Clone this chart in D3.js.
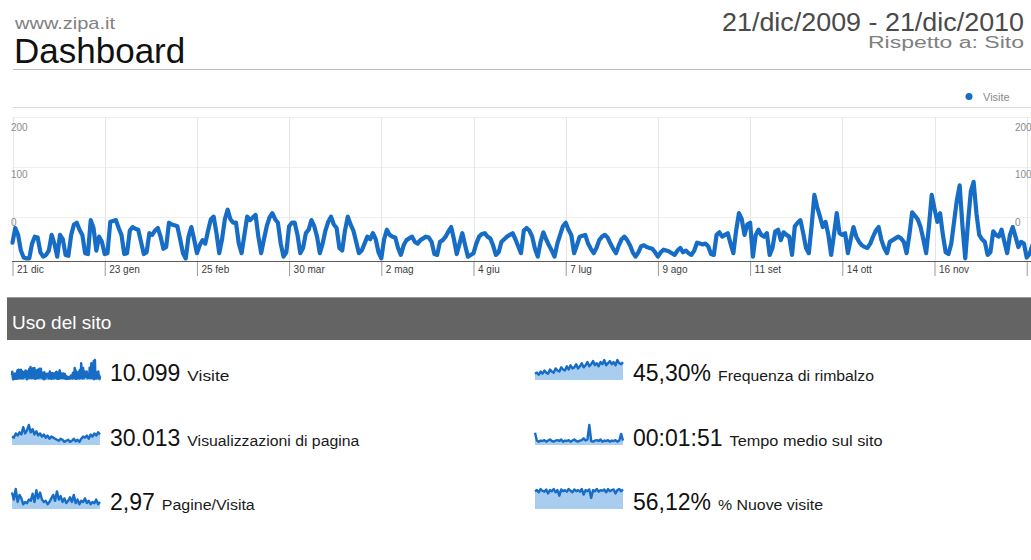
<!DOCTYPE html>
<html>
<head>
<meta charset="utf-8">
<script src="https://cdn.jsdelivr.net/npm/d3@7"></script>
<style>
  body { margin: 0; background: #fff; overflow: hidden; }
  svg { display: block; font-family: "Liberation Sans", Arial, sans-serif; }
  .axis path.domain { display: none; }
</style>
</head>
<body>
<script>
// Daily visits, 21/dic/2009 - 21/dic/2010
const visits = [
  21,38,30,12,4,3,3,
  20,28,27,10,5,7,12,
  30,20,5,30,25,7,6,
  30,42,44,36,30,9,8,
  47,38,12,28,22,8,9,
  45,46,47,38,30,8,9,
  35,39,37,36,22,8,10,
  32,30,35,38,28,14,16,
  44,42,41,40,25,9,3,
  28,39,25,9,18,24,20,
  35,48,51,32,9,25,48,
  59,48,44,44,20,9,30,
  51,47,50,53,28,9,25,
  40,50,55,48,44,20,5,
  10,40,44,44,30,9,15,
  32,36,47,40,28,9,20,
  35,45,51,42,38,15,12,
  35,51,42,35,22,9,12,
  20,28,25,32,25,10,3,
  25,36,30,28,27,15,7,
  18,24,26,28,22,20,24,
  26,28,27,22,8,7,22,
  24,28,34,39,25,8,20,
  32,18,5,7,9,20,28,
  31,32,28,26,18,7,10,
  22,25,28,30,32,25,17,
  9,35,38,35,28,14,5,
  22,33,25,18,12,5,20,
  30,40,44,36,30,9,18,
  28,29,30,20,14,9,15,
  24,28,30,27,20,14,9,
  18,25,28,24,18,10,5,
  10,17,18,16,15,14,10,
  5,10,13,12,11,9,7,
  12,15,10,12,9,7,12,
  21,20,19,20,17,8,7,
  30,33,28,30,32,20,9,
  35,55,48,30,42,44,5,
  30,36,30,28,32,7,15,
  34,36,24,33,30,28,7,
  40,44,47,32,15,9,40,
  76,62,51,39,45,30,7,
  30,55,32,30,32,9,25,
  39,28,22,18,16,15,20,
  28,35,39,24,15,9,22,
  24,26,28,26,22,9,30,
  56,52,48,39,25,9,40,
  76,60,45,55,30,10,8,
  20,45,70,87,40,3,45,
  80,91,55,30,25,22,7,
  10,34,30,28,36,22,9,
  30,39,28,16,22,20,4,
  8,18
];

const tickDates = ["2009-12-21", "2010-01-23", "2010-02-25", "2010-03-30", "2010-05-02", "2010-06-04",
  "2010-07-07", "2010-08-09", "2010-09-11", "2010-10-14", "2010-11-16", "2010-12-19"];
const yTicks = [0, 100, 200];

// sparklines for the other metrics (rough shape, weekly)
const sparkPageviews = [40,35,55,45,60,50,85,55,70,95,60,75,50,65,45,55,40,50,35,45,30,40,35,30,
  25,20,30,25,15,20,25,15,20,30,18,25,15,30,40,35,45,30,50,40,55,45,60,50];
const sparkPagesPerVisit = [70,40,85,30,60,45,20,30,25,40,35,65,30,80,45,70,40,30,35,20,30,45,60,35,
  75,40,55,30,45,25,35,50,30,60,25,40,20,35,30,45,25,35,20,30,25,40,20,30];
const sparkBounce = [30,35,25,40,30,45,35,30,50,40,35,55,45,40,60,50,45,65,50,70,55,60,75,55,
  65,80,60,70,85,65,75,90,70,80,65,85,75,95,70,80,90,75,85,70,95,80,75,85];
const sparkTime = [55,20,15,20,18,22,15,20,25,18,15,20,22,18,25,15,20,18,22,15,20,25,18,15,
  20,22,30,20,25,90,18,15,20,22,18,25,15,20,18,22,15,20,18,22,15,20,50,20];
const sparkNew = [80,85,75,90,82,78,88,70,85,80,90,75,85,60,88,80,85,78,90,82,75,88,80,85,
  78,90,65,85,80,88,50,85,80,90,78,85,82,88,75,90,80,85,88,70,85,90,80,88];

const metricValues = ["10.099", "30.013", "2,97", "45,30%", "00:01:51", "56,12%"];
const metricLabels = ["Visite", "Visualizzazioni di pagina", "Pagine/Visita",
  "Frequenza di rimbalzo", "Tempo medio sul sito", "% Nuove visite"];
const metricSparks = [visits, sparkPageviews, sparkPagesPerVisit, sparkBounce, sparkTime, sparkNew];

// layout: label widths as they appear in the screenshot
const labelWidths = [42, 172, 93, 156, 153, 105];

const BLUE = "#176dc6";
const width = 1031, height = 560;
const FONT = "Liberation Sans, Arial, sans-serif";

const svg = d3.select("body").append("svg")
  .attr("width", width)
  .attr("height", height);

// Header
svg.append("text").attr("x", 15).attr("y", 29)
  .attr("font-size", 17).attr("fill", "#808080")
  .attr("textLength", 100).attr("lengthAdjust", "spacingAndGlyphs").text("www.zipa.it");
svg.append("text").attr("x", 14).attr("y", 63)
  .attr("font-size", 35).attr("fill", "#111").text("Dashboard");
svg.append("text").attr("x", 722).attr("y", 31)
  .attr("font-size", 25).attr("fill", "#4a4a4a")
  .attr("textLength", 302).attr("lengthAdjust", "spacingAndGlyphs").text("21/dic/2009 - 21/dic/2010");
svg.append("text").attr("x", 868).attr("y", 48)
  .attr("font-size", 16).attr("fill", "#808080")
  .attr("textLength", 156).attr("lengthAdjust", "spacingAndGlyphs").text("Rispetto a: Sito");
svg.append("line").attr("x1", 13).attr("x2", width).attr("y1", 69.5).attr("y2", 69.5)
  .attr("stroke", "#bdbdbd");

// Main chart
const itLocale = d3.timeFormatLocale({
  dateTime: "%A %e %B %Y, %X", date: "%d/%m/%Y", time: "%H:%M:%S", periods: ["AM", "PM"],
  days: ["domenica", "lunedì", "martedì", "mercoledì", "giovedì", "venerdì", "sabato"],
  shortDays: ["dom", "lun", "mar", "mer", "gio", "ven", "sab"],
  months: ["gennaio", "febbraio", "marzo", "aprile", "maggio", "giugno", "luglio", "agosto",
    "settembre", "ottobre", "novembre", "dicembre"],
  shortMonths: ["gen", "feb", "mar", "apr", "mag", "giu", "lug", "ago", "set", "ott", "nov", "dic"]
});
const fmtTick = itLocale.utcFormat("%-d %b");
const parseDay = d3.utcParse("%Y-%m-%d");

const start = parseDay("2009-12-21");
const dayOf = i => d3.utcDay.offset(start, i);

const x = d3.scaleUtc()
  .domain([start, dayOf(365)])
  .range([12.5, 12.5 + 2.794 * 365]);
const y = d3.scaleLinear().domain([0, 100]).range([261, 174]);
// the axis labels/gridlines of the screenshot sit on their own scale
const gridY = d3.scaleLinear().domain([0, 200]).range([217, 117]);
const labelY = d3.scaleLinear().domain([0, 200]).range([222, 127]);

// legend + top rule
svg.append("line").attr("x1", 13).attr("x2", width).attr("y1", 107.5).attr("y2", 107.5)
  .attr("stroke", "#dcdcdc");
svg.append("circle").attr("cx", 969).attr("cy", 96.5).attr("r", 3.5).attr("fill", BLUE);
svg.append("text").attr("x", 983).attr("y", 100.5)
  .attr("font-size", 11).attr("fill", "#8a8a8a").text("Visite");

// grid
const grid = svg.append("g");
grid.selectAll(".hgrid").data(yTicks).join("line")
  .attr("x1", 12.5).attr("x2", width)
  .attr("y1", d => gridY(d) + 0.5).attr("y2", d => gridY(d) + 0.5)
  .attr("stroke", "#efefef");
grid.selectAll(".vgrid").data(tickDates).join("line")
  .attr("x1", d => Math.round(x(parseDay(d))) + 0.5).attr("x2", d => Math.round(x(parseDay(d))) + 0.5)
  .attr("y1", 117).attr("y2", 261)
  .attr("stroke", "#e6e6e6");

// y labels, both sides
[11, 1015].forEach(lx => {
  const g = svg.append("g").attr("class", "axis")
    .attr("transform", `translate(${lx},0)`)
    .call(d3.axisRight(labelY).tickValues(yTicks).tickSize(0).tickPadding(0));
  g.selectAll("text").attr("font-size", 10).attr("fill", "#8c8c8c").attr("font-family", FONT);
});

// x axis (the last label falls outside the visible area)
const xAxisG = svg.append("g").attr("class", "axis")
  .attr("transform", "translate(0,261)")
  .call(d3.axisBottom(x).tickValues(tickDates.map(parseDay))
    .tickFormat(d => x(d) > width - 30 ? "" : fmtTick(d)).tickSize(15));
xAxisG.selectAll(".tick line").attr("stroke", "#9a9a9a");
xAxisG.selectAll("text")
  .attr("x", 4).attr("y", 5).attr("text-anchor", "start")
  .attr("font-size", 10).attr("fill", "#3c3c3c").attr("font-family", FONT);
svg.append("line").attr("x1", 12).attr("x2", width).attr("y1", 261.5).attr("y2", 261.5)
  .attr("stroke", "#5a5a5a");

// visits line
const line = d3.line()
  .x((d, i) => x(dayOf(i)))
  .y(d => y(d));
svg.append("path")
  .datum(visits)
  .attr("d", line)
  .attr("fill", "none")
  .attr("stroke", BLUE)
  .attr("stroke-width", 4.2)
  .attr("stroke-linejoin", "round")
  .attr("stroke-linecap", "round");

// "Uso del sito" bar
svg.append("rect").attr("x", 7).attr("y", 297).attr("width", width - 7).attr("height", 43)
  .attr("fill", "#646464");
svg.append("line").attr("x1", 7).attr("x2", width).attr("y1", 297.5).attr("y2", 297.5)
  .attr("stroke", "#9a9a9a");
svg.append("text").attr("x", 12).attr("y", 329)
  .attr("font-size", 19).attr("fill", "#fff").text("Uso del sito");

// metric rows
const colX = [12, 535];
const rowBase = [380, 445, 509];
const sparkW = 88, sparkH = 20;

metricValues.forEach((val, k) => {
  const col = Math.floor(k / 3), row = k % 3;
  const sx = colX[col], base = rowBase[row];
  const data = metricSparks[k];

  const sxScale = d3.scaleLinear().domain([0, data.length - 1]).range([sx, sx + sparkW]);
  const syScale = d3.scaleLinear().domain([0, d3.max(data)]).range([base, base - sparkH]);

  const area = d3.area().x((d, i) => sxScale(i)).y0(base).y1(d => syScale(d));
  const sline = d3.line().x((d, i) => sxScale(i)).y(d => syScale(d));
  svg.append("path").datum(data).attr("d", area).attr("fill", "#a9cdef");
  svg.append("path").datum(data).attr("d", sline)
    .attr("fill", "none").attr("stroke", BLUE).attr("stroke-width", 2.4)
    .attr("stroke-linejoin", "round");

  const tv = svg.append("text").attr("x", sx + 98).attr("y", base + 1)
    .attr("font-size", 23).attr("fill", "#111").text(val);
  const w = tv.node().getComputedTextLength();
  svg.append("text").attr("x", sx + 98 + w + 7).attr("y", base + 1)
    .attr("font-size", 14).attr("fill", "#1a1a1a")
    .attr("textLength", labelWidths[k]).attr("lengthAdjust", "spacingAndGlyphs")
    .text(metricLabels[k]);
});
</script>
</body>
</html>
